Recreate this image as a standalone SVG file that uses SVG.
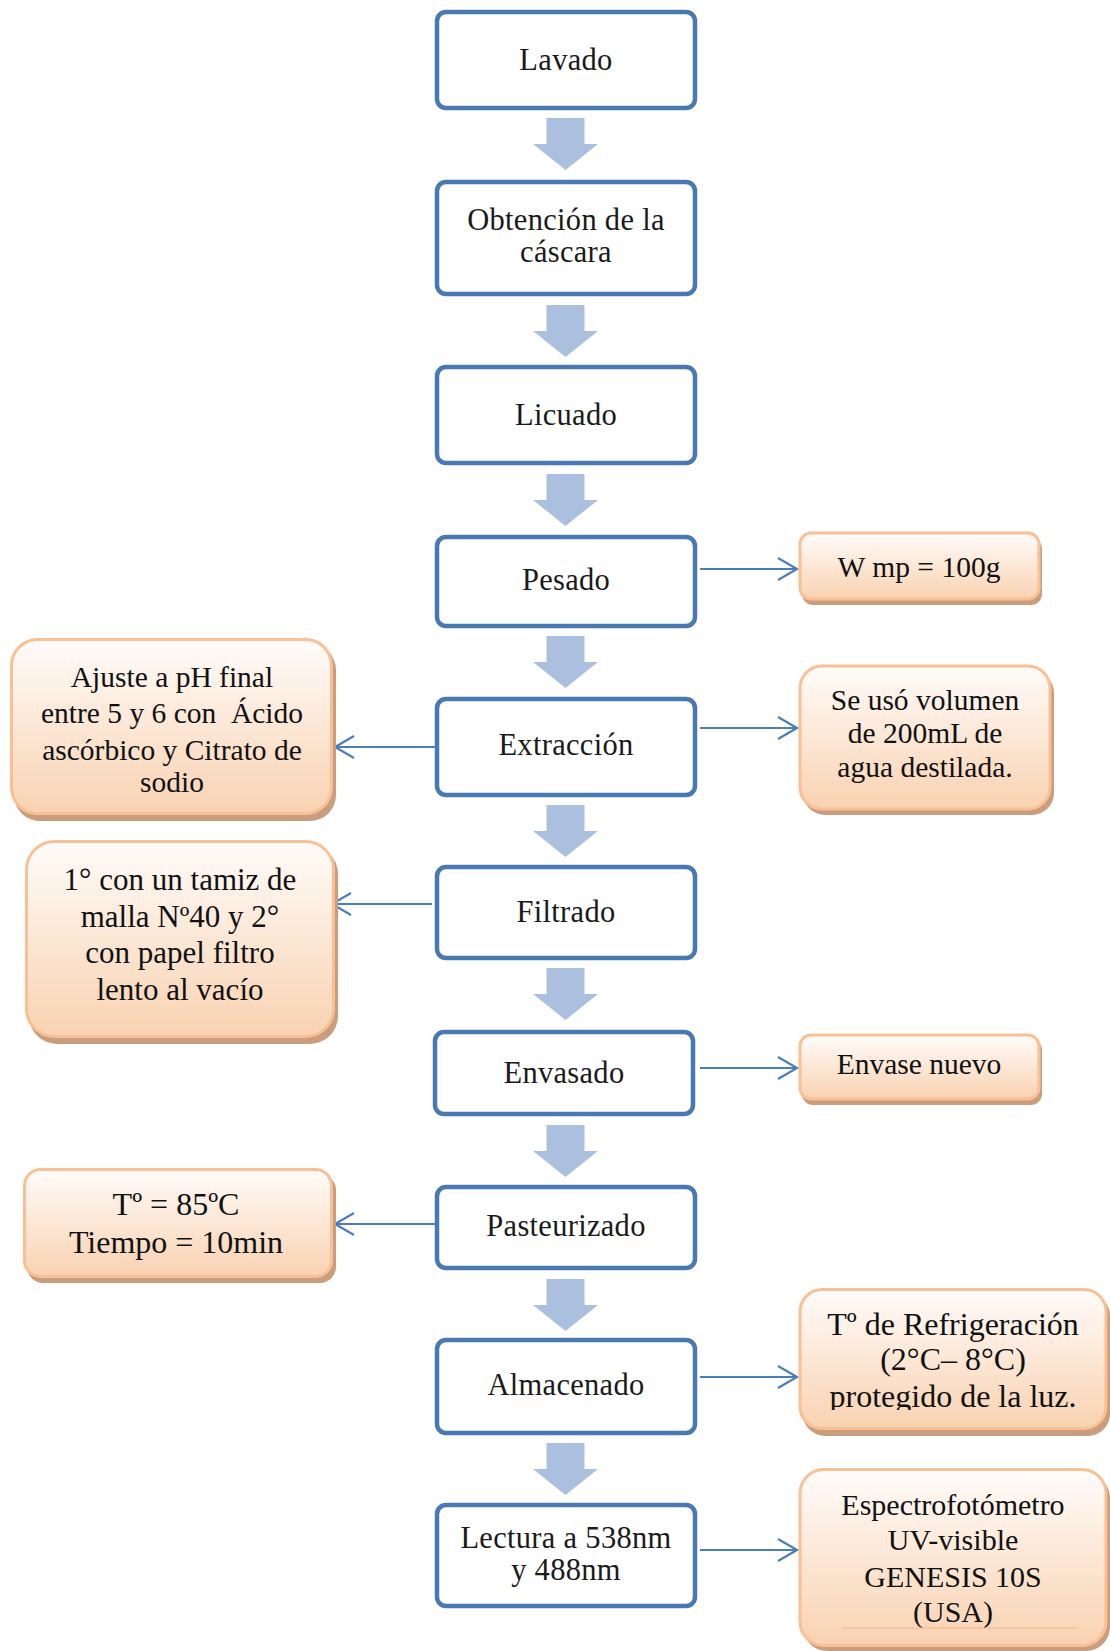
<svg xmlns="http://www.w3.org/2000/svg" xmlns:xlink="http://www.w3.org/1999/xlink" width="1110" height="1651" viewBox="0 0 1110 1651">
<defs>
<style>
.step{fill:#ffffff;stroke:#4a78b2;stroke-width:4.5}
.st{font-family:"Liberation Serif","Times New Roman",serif;font-size:30.5px;letter-spacing:0.3px;fill:#1a1a1a;text-anchor:middle}
.note{fill:url(#og);stroke:#f8c094;stroke-width:3}
.shadow{fill:#c99d7e}
.nt{font-family:"Liberation Serif","Times New Roman",serif;font-size:29.5px;fill:#111;text-anchor:middle;white-space:pre}
.conn{stroke:#4a7ebb;stroke-width:2.2;fill:none;marker-end:url(#ah)}
.down{fill:#abbfdf}
</style>
<linearGradient id="og" x1="0" y1="0" x2="0" y2="1">
<stop offset="0" stop-color="#fffcfa"/>
<stop offset="1" stop-color="#f9d2b1"/>
</linearGradient>
<marker id="ah" markerUnits="userSpaceOnUse" markerWidth="26" markerHeight="26" refX="21" refY="12" orient="auto">
<path d="M2,1 L21,12 L2,23" fill="none" stroke="#4a7ebb" stroke-width="2.2"/>
</marker>
<path id="da" d="M-19,0 H19 V26 H32.5 L0,52 L-32.5,26 H-19 Z"/>
<clipPath id="refclip"><rect x="790" y="1280" width="320" height="130"/></clipPath>
</defs>

<g id="connectors">
<g class="down">
<use xlink:href="#da" x="565.5" y="118"/>
<use xlink:href="#da" x="565.5" y="305"/>
<use xlink:href="#da" x="565.5" y="474"/>
<use xlink:href="#da" x="565.5" y="636"/>
<use xlink:href="#da" x="565.5" y="805"/>
<use xlink:href="#da" x="565.5" y="968"/>
<use xlink:href="#da" x="565.5" y="1125"/>
<use xlink:href="#da" x="565.5" y="1279"/>
<use xlink:href="#da" x="565.5" y="1443"/>
</g>
<line class="conn" x1="700" y1="569" x2="797" y2="569"/>
<line class="conn" x1="700" y1="728" x2="797" y2="728"/>
<line class="conn" x1="435" y1="747" x2="335" y2="747"/>
<line class="conn" x1="432" y1="904" x2="332" y2="904"/>
<line class="conn" x1="700" y1="1068" x2="797" y2="1068"/>
<line class="conn" x1="435" y1="1224" x2="335" y2="1224"/>
<line class="conn" x1="700" y1="1377" x2="797" y2="1377"/>
<line class="conn" x1="700" y1="1550" x2="797" y2="1550"/>
</g>

<g id="lavado"><rect class="step" x="437" y="12" width="258" height="96" rx="9"/><text class="st" x="566" y="70">Lavado</text></g>
<g id="obtencion"><rect class="step" x="437" y="182" width="258" height="112" rx="9"/><text class="st" x="566" y="230">Obtención de la</text><text class="st" x="566" y="262">cáscara</text></g>
<g id="licuado"><rect class="step" x="437" y="367" width="258" height="96" rx="9"/><text class="st" x="566" y="425">Licuado</text></g>
<g id="pesado"><rect class="step" x="437" y="537" width="258" height="89" rx="9"/><text class="st" x="566" y="590">Pesado</text></g>
<g id="extraccion"><rect class="step" x="437" y="699" width="258" height="96" rx="9"/><text class="st" x="566" y="755">Extracción</text></g>
<g id="filtrado"><rect class="step" x="437" y="867" width="258" height="91" rx="9"/><text class="st" x="566" y="922">Filtrado</text></g>
<g id="envasado"><rect class="step" x="435" y="1032" width="258" height="82" rx="9"/><text class="st" x="564" y="1083">Envasado</text></g>
<g id="pasteurizado"><rect class="step" x="437" y="1187" width="258" height="81" rx="9"/><text class="st" x="566" y="1236">Pasteurizado</text></g>
<g id="almacenado"><rect class="step" x="437" y="1340" width="258" height="93" rx="9"/><text class="st" x="566" y="1395">Almacenado</text></g>
<g id="lectura"><rect class="step" x="437" y="1505" width="258" height="101" rx="9"/><text class="st" x="566" y="1548">Lectura a 538nm</text><text class="st" x="566" y="1580">y 488nm</text></g>

<g id="wmp"><rect class="shadow" x="802" y="538" width="240" height="67" rx="11"/><rect class="note" x="800" y="533" width="239" height="66" rx="11"/><text class="nt" x="919" y="577">W mp = 100g</text></g>
<g id="seuso"><rect class="shadow" x="803" y="671" width="251" height="144" rx="22"/><rect class="note" x="800" y="666" width="250" height="143" rx="22"/><text class="nt" x="925" y="710">Se usó volumen</text><text class="nt" x="925" y="743">de 200mL de</text><text class="nt" x="925" y="777">agua destilada.</text></g>
<g id="ajuste"><rect class="shadow" x="14" y="644" width="322" height="177" rx="26"/><rect class="note" x="11.5" y="639.5" width="320" height="174" rx="26"/><text class="nt" x="172" y="687">Ajuste a pH final</text><text class="nt" x="172" y="723" xml:space="preserve">entre 5 y 6 con  Ácido</text><text class="nt" x="172" y="760">ascórbico y Citrato de</text><text class="nt" x="172" y="792">sodio</text></g>
<g id="tamiz"><rect class="shadow" x="29" y="846" width="309" height="198" rx="28"/><rect class="note" x="26.5" y="841.5" width="307" height="195" rx="28"/><text class="nt" x="180" y="890" style="font-size:31px">1° con un tamiz de</text><text class="nt" x="180" y="927" style="font-size:31px">malla Nº40 y 2°</text><text class="nt" x="180" y="963" style="font-size:31px">con papel filtro</text><text class="nt" x="180" y="1000" style="font-size:31px">lento al vacío</text></g>
<g id="envase"><rect class="shadow" x="802" y="1039" width="240" height="66" rx="11"/><rect class="note" x="800" y="1035" width="239" height="64" rx="11"/><text class="nt" x="919" y="1074">Envase nuevo</text></g>
<g id="temp"><rect class="shadow" x="27" y="1174" width="309" height="109" rx="16"/><rect class="note" x="24.5" y="1169.5" width="307" height="107" rx="16"/><text class="nt" x="176" y="1215" style="font-size:32px">Tº = 85ºC</text><text class="nt" x="176" y="1253" style="font-size:32px">Tiempo = 10min</text></g>
<g id="refrig"><rect class="shadow" x="803" y="1294" width="307" height="142" rx="22"/><rect class="note" x="800" y="1289.5" width="306" height="139" rx="22"/><g clip-path="url(#refclip)"><text class="nt" x="953" y="1335" style="font-size:32px">Tº de Refrigeración</text><text class="nt" x="953" y="1370" style="font-size:32px">(2°C– 8°C)</text><text class="nt" x="953" y="1407" style="font-size:32px">protegido de la luz.</text></g></g>
<g id="espectro"><rect class="shadow" x="803" y="1474" width="307" height="177" rx="24"/><rect class="note" x="800" y="1469.5" width="306" height="176" rx="24"/><text class="nt" x="953" y="1515" style="font-size:30px">Espectrofotómetro</text><text class="nt" x="953" y="1550" style="font-size:30px">UV-visible</text><text class="nt" x="953" y="1587" style="font-size:30px">GENESIS 10S</text><text class="nt" x="953" y="1622" style="font-size:30px">(USA)</text><line x1="842" y1="1628" x2="1077" y2="1628" stroke="#f1b689" stroke-width="1"/></g>
</svg>
